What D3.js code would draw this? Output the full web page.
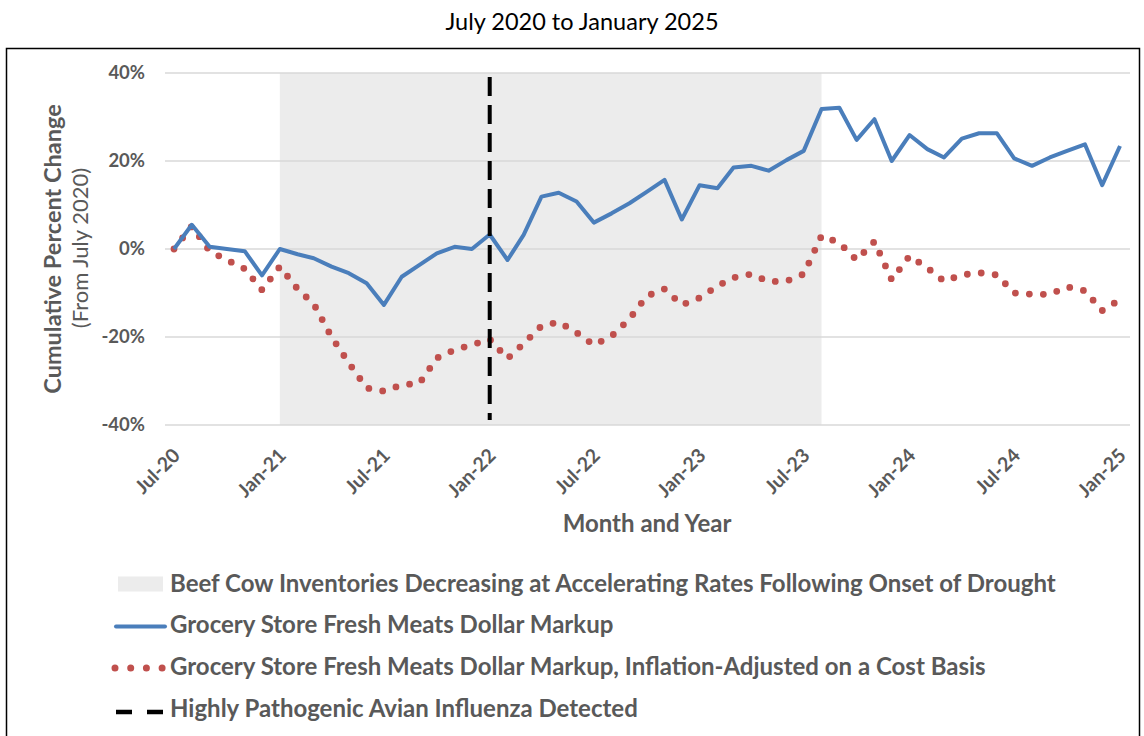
<!DOCTYPE html>
<html>
<head>
<meta charset="utf-8">
<script src="https://cdn.jsdelivr.net/npm/d3@7"></script>
<style>
  body { margin: 0; background: #fff; }
  text { font-family: Lato, "Open Sans", sans-serif; }
</style>
</head>
<body>
<div id="chart"></div>
<script>
// monthly categories, Jul 2020 .. Jan 2025
var months = d3.timeMonth.range(new Date(2020, 6, 1), new Date(2025, 0, 2));

// cumulative % change of the grocery store fresh meats dollar markup
var markup = [0, 5.5, 0.5, 0, -0.5, -6, 0, -1.2, -2.1, -4, -5.5, -7.8, -12.7, -6.3, -3.6, -1, 0.5, 0, 3.3,
  -2.5, 3.2, 11.9, 12.8, 10.8, 6, 8.1, 10.4, 13, 15.7, 6.7, 14.5, 13.8, 18.5, 18.9, 17.8, 20.2, 22.3,
  31.8, 32.1, 24.8, 29.5, 20, 25.9, 22.7, 20.8, 25.1, 26.3, 26.3, 20.6, 18.9, 20.8, 22.3, 23.8, 14.5, 23.4];

// same, inflation-adjusted on a cost basis
var adjusted = [0, 5.2, -0.5, -2.5, -4.5, -9.3, -4, -9.1, -12.5, -20, -25.9, -31.6, -32.3, -30.9, -30.5, -24.8, -22.9, -21.8, -20.5,
  -24.9, -21.5, -17.5, -16.6, -19, -21.8, -19.8, -15.9, -10.7, -9.1, -12.7, -11.1, -8.4, -6.5, -5.7, -7.4, -7.3, -5.7,
  3, 1.4, -2.5, 1.7, -7, -1.6, -4.3, -7.3, -5.9, -5.4, -5.9, -10, -10.3, -10.3, -8.6, -9.5, -14, -11.5];

var yTicks = [-40, -20, 0, 20, 40];
var bandStart = new Date(2021, 0, 1), bandEnd = new Date(2023, 7, 1);
var avianDate = new Date(2022, 0, 1);

var legendLabels = [
  "Beef Cow Inventories Decreasing at Accelerating Rates Following Onset of Drought",
  "Grocery Store Fresh Meats Dollar Markup",
  "Grocery Store Fresh Meats Dollar Markup, Inflation-Adjusted on a Cost Basis",
  "Highly Pathogenic Avian Influenza Detected"
];

var width = 1144, height = 736;
var grey = "#595959", blue = "#4a7ebb", red = "#c0504d";

var svg = d3.select("#chart").append("svg")
  .attr("width", width)
  .attr("height", height);

svg.append("rect")
  .attr("x", 6.5).attr("y", 48.5)
  .attr("width", 1133).attr("height", 700)
  .attr("fill", "none").attr("stroke", "#000").attr("stroke-width", 1.5);

svg.append("text")
  .attr("x", 582).attr("y", 30)
  .attr("text-anchor", "middle")
  .attr("font-size", 23.5)
  .attr("fill", "#000")
  .text("July 2020 to January 2025");

var x = d3.scaleTime()
  .domain([months[0], months[months.length - 1]])
  .range([174, 1120]);

var y = d3.scaleLinear()
  .domain([-40, 40])
  .range([425, 73]);

// drought band
svg.append("rect")
  .attr("x", x(bandStart))
  .attr("y", y(40))
  .attr("width", x(bandEnd) - x(bandStart))
  .attr("height", y(-40) - y(40))
  .attr("fill", "#ececec");

// gridlines
svg.append("g").selectAll("line")
  .data(yTicks)
  .enter().append("line")
  .attr("x1", 165).attr("x2", 1130)
  .attr("y1", function(d) { return y(d); })
  .attr("y2", function(d) { return y(d); })
  .attr("stroke", "#d9d9d9").attr("stroke-width", 1.3);

// y axis
var yAxis = svg.append("g")
  .attr("transform", "translate(165,0)")
  .call(d3.axisLeft(y).tickValues(yTicks).tickSize(0).tickPadding(20)
    .tickFormat(function(d) { return d + "%"; }));
yAxis.select(".domain").remove();
yAxis.selectAll("text")
  .attr("font-family", "Lato, sans-serif")
  .attr("font-size", 18.5).attr("font-weight", "bold").attr("fill", grey);

// x axis, labels turned 45 degrees and ending at the tick
var xAxis = svg.append("g")
  .call(d3.axisBottom(x)
    .tickValues(months.filter(function(d, i) { return i % 6 === 0; }))
    .tickSize(0)
    .tickFormat(d3.timeFormat("%b-%y")));
xAxis.select(".domain").remove();
xAxis.selectAll("text")
  .attr("font-family", "Lato, sans-serif")
  .attr("font-size", 19.5).attr("font-weight", "bold").attr("fill", grey)
  .attr("text-anchor", "end")
  .attr("y", 0)
  .attr("dy", "0.35em")
  .attr("transform", "translate(2,452) rotate(-45)");

// axis titles
svg.append("text")
  .attr("transform", "translate(61,249) rotate(-90)")
  .attr("text-anchor", "middle")
  .attr("font-size", 23.5).attr("font-weight", "bold").attr("fill", grey)
  .text("Cumulative Percent Change");
svg.append("text")
  .attr("transform", "translate(88,248) rotate(-90)")
  .attr("text-anchor", "middle")
  .attr("font-size", 22).attr("fill", grey)
  .text("(From July 2020)");
svg.append("text")
  .attr("x", 647).attr("y", 532)
  .attr("text-anchor", "middle")
  .attr("font-size", 24).attr("font-weight", "bold").attr("fill", grey)
  .text("Month and Year");

// series
var line = d3.line()
  .x(function(d, i) { return x(months[i]); })
  .y(function(d) { return y(d); });

svg.append("path")
  .datum(adjusted)
  .attr("d", line)
  .attr("fill", "none")
  .attr("stroke", red)
  .attr("stroke-width", 6.8)
  .attr("stroke-linecap", "round")
  .attr("stroke-dasharray", "0 14");

svg.append("path")
  .datum(markup)
  .attr("d", line)
  .attr("fill", "none")
  .attr("stroke", blue)
  .attr("stroke-width", 4)
  .attr("stroke-linejoin", "round");

// avian influenza marker
svg.append("line")
  .attr("x1", x(avianDate)).attr("x2", x(avianDate))
  .attr("y1", 77).attr("y2", 420)
  .attr("stroke", "#000").attr("stroke-width", 4)
  .attr("stroke-dasharray", "19 9");

// legend
var legend = svg.append("g");
var markY = [584, 626.5, 668, 712];
var textY = [591.5, 632.5, 675, 717];
legendLabels.forEach(function(label, i) {
  var yy = markY[i];
  if (i === 0) {
    legend.append("rect").attr("x", 118).attr("y", yy - 7.5).attr("width", 45).attr("height", 15).attr("fill", "#ececec");
  } else if (i === 1) {
    legend.append("line").attr("x1", 116).attr("x2", 165).attr("y1", yy).attr("y2", yy)
      .attr("stroke", blue).attr("stroke-width", 4).attr("stroke-linecap", "round");
  } else if (i === 2) {
    legend.append("line").attr("x1", 115).attr("x2", 166).attr("y1", yy).attr("y2", yy)
      .attr("stroke", red).attr("stroke-width", 7).attr("stroke-linecap", "round")
      .attr("stroke-dasharray", "0 15.7");
  } else {
    legend.append("line").attr("x1", 116).attr("x2", 164).attr("y1", yy).attr("y2", yy)
      .attr("stroke", "#000").attr("stroke-width", 4.5).attr("stroke-dasharray", "16 15");
  }
  legend.append("text")
    .attr("x", 170).attr("y", textY[i])
    .attr("font-size", 24).attr("font-weight", "bold").attr("fill", grey)
    .text(label);
});
</script>
</body>
</html>
